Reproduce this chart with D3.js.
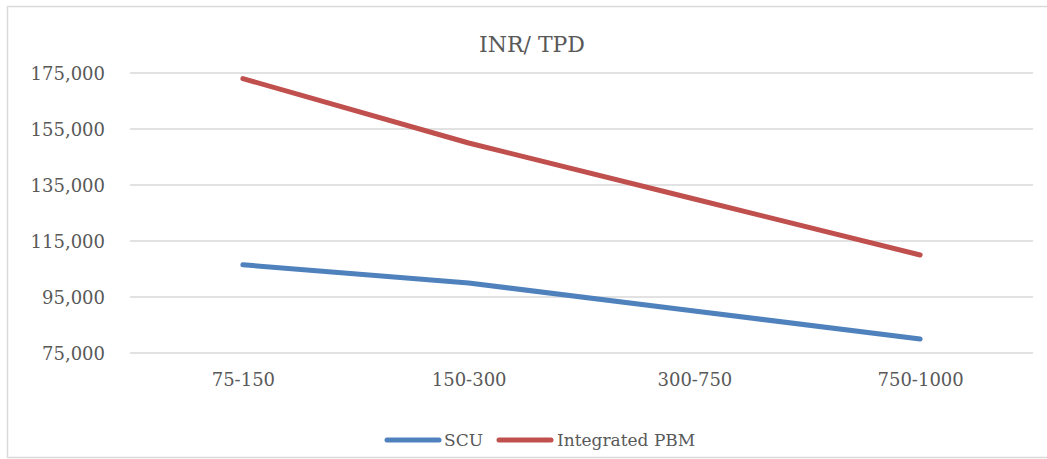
<!DOCTYPE html>
<html>
<head>
<meta charset="utf-8">
<script src="https://cdn.jsdelivr.net/npm/d3@7"></script>
<style>
  html, body { margin: 0; padding: 0; background: #fff; }
  svg { display: block; }
  text { font-family: "DejaVu Serif", serif; fill: #595959; }
</style>
</head>
<body>
<svg id="chart" width="1047" height="459"></svg>
<script>
const title = "INR/ TPD";
const categories = ["75-150", "150-300", "300-750", "750-1000"];
const scuValues = [106500, 100000, 90000, 80000];
const pbmValues = [173000, 150000, 130000, 110000];
const yTicks = [75000, 95000, 115000, 135000, 155000, 175000];
const seriesNames = ["SCU", "Integrated PBM"];
const seriesColors = ["#4F81BD", "#C0504D"];

(function () {
const svg = d3.select("#chart");

// outer frame
svg.append("rect")
  .attr("x", 7.5).attr("y", 6.5)
  .attr("width", 1045).attr("height", 451)
  .attr("fill", "none").attr("stroke", "#d9d9d9").attr("stroke-width", 1.5);

const pLeft = 130, pRight = 1033, pTop = 73, pBottom = 353;

const x = d3.scalePoint().domain(categories).range([pLeft, pRight]).padding(0.5);
const y = d3.scaleLinear().domain([75000, 175000]).range([pBottom, pTop]);

// gridlines
svg.append("g")
  .selectAll("line").data(yTicks).join("line")
  .attr("x1", pLeft).attr("x2", pRight)
  .attr("y1", d => y(d)).attr("y2", d => y(d))
  .attr("stroke", "#d9d9d9").attr("stroke-width", 1.5);

// y axis labels
const fmt = d3.format(",");
const yAxis = d3.axisLeft(y).tickValues(yTicks).tickFormat(fmt).tickSize(0).tickPadding(0);
const yg = svg.append("g").attr("transform", `translate(${pLeft - 25},0)`).call(yAxis);
yg.select(".domain").remove();
yg.selectAll("text")
  .attr("font-family", "DejaVu Serif").attr("font-size", 18).attr("fill", "#595959")
  .attr("dy", "0.35em");

// x axis labels
const xAxis = d3.axisBottom(x).tickSize(0).tickPadding(0);
const xg = svg.append("g").attr("transform", `translate(0,${pBottom + 20})`).call(xAxis);
xg.select(".domain").remove();
xg.selectAll("text")
  .attr("font-family", "DejaVu Serif").attr("font-size", 18).attr("fill", "#595959")
  .attr("dy", "0.71em");

// title
svg.append("text")
  .attr("x", 532).attr("y", 52)
  .attr("text-anchor", "middle")
  .attr("font-size", 22)
  .text(title);

// lines
const line = d3.line().x((d, i) => x(categories[i])).y(d => y(d));
[scuValues, pbmValues].forEach((vals, k) => {
  svg.append("path")
    .datum(vals)
    .attr("d", line)
    .attr("fill", "none")
    .attr("stroke", seriesColors[k])
    .attr("stroke-width", 5)
    .attr("stroke-linecap", "round")
    .attr("stroke-linejoin", "round");
});

// legend
const legendItems = [
  { name: seriesNames[0], color: seriesColors[0], x0: 387, x1: 439, tx: 444 },
  { name: seriesNames[1], color: seriesColors[1], x0: 499, x1: 551, tx: 557 }
];
const lg = svg.append("g");
legendItems.forEach(it => {
  lg.append("line")
    .attr("x1", it.x0).attr("x2", it.x1)
    .attr("y1", 440).attr("y2", 440)
    .attr("stroke", it.color).attr("stroke-width", 5)
    .attr("stroke-linecap", "round");
  lg.append("text")
    .attr("x", it.tx).attr("y", 446)
    .attr("font-size", 17)
    .text(it.name);
});
})();
</script>
</body>
</html>
